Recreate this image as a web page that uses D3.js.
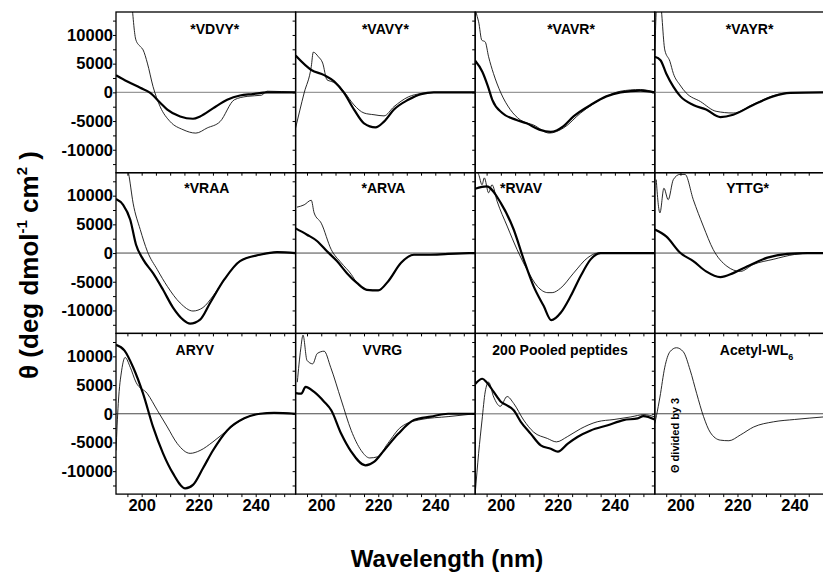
<!DOCTYPE html>
<html>
<head>
<meta charset="utf-8">
<script src="https://cdn.jsdelivr.net/npm/d3@7"></script>
<style>
body { margin: 0; background: #fff; }
text { font-family: "Liberation Sans", Arial, sans-serif; font-weight: bold; fill: #000; }
</style>
</head>
<body>
<div id="chart"></div>
<script>
// panel titles, row by row
var titles = ["*VDVY*", "*VAVY*", "*VAVR*", "*VAYR*",
              "*VRAA", "*ARVA", "*RVAV", "YTTG*",
              "ARYV", "VVRG", "200 Pooled peptides", "Acetyl-WL"];

// [wavelength nm, theta]
var vdvyThick = [[191,3000],[195,1900],[199.5,800],[203,-100],[206.5,-1800],[209,-3000],[213.5,-4200],[218,-4600],[220.5,-4200],[225,-2800],[230,-1300],[234.5,-550],[239,-300],[244,0],[254,0]];
var vdvyThin = [[196.5,16000],[198,9100],[199.5,8000],[200.5,7400],[202,5100],[204,1000],[206.5,-2500],[210,-5100],[214.5,-6500],[219,-7100],[223,-6200],[227.5,-5100],[232.5,-1300],[237,-700],[242,-500],[244,200],[254,0]];

var vavyThick = [[191,6400],[196.5,3900],[201,3000],[204.5,1900],[208,-100],[211.5,-3000],[215,-5400],[219,-6100],[222,-5100],[225.5,-3000],[230.5,-1300],[235,-300],[239.5,0],[254,0]];
var vavyThin = [[191,-6200],[194,-100],[196.5,4500],[197.2,7000],[199,6200],[200.5,5100],[202,2200],[203.5,1900],[205,1600],[208,100],[211.5,-2200],[215,-3600],[218.5,-3900],[222,-4100],[225.5,-2500],[230.5,-800],[235,-200],[239.5,0],[254,0]];

var vavrThick = [[191,5500],[193.5,3600],[195.5,1000],[197,-1300],[200.5,-3600],[205.5,-4800],[209,-5400],[213.5,-6500],[217.5,-6900],[222,-5900],[225.5,-4200],[231.5,-2200],[237,-700],[242,0],[249,300],[254,0]];
var vavrThin = [[191,14500],[191.7,13200],[192.2,12300],[193.3,9100],[194.5,8800],[195.7,6200],[197.4,3300],[200,-100],[203.3,-3000],[206.8,-4800],[211.5,-5700],[217,-7100],[222,-6200],[228,-3600],[237,-700],[242,200],[249,500],[254,0]];

var vayrThick = [[191,6200],[193,5600],[195,3300],[197.5,1000],[200,-700],[204.5,-2200],[209,-3000],[214,-4300],[218.5,-3900],[225.5,-2200],[232.5,-700],[238.5,-100],[254,0]];
var vayrThin = [[191,6500],[191.8,16000],[192.8,16000],[194.5,7400],[196.3,5400],[197.5,3300],[199.8,1300],[202,-100],[207,-1600],[212.5,-3300],[218.5,-3600],[225.5,-2100],[232.5,-600],[238.5,-50],[254,0]];

var vraaThick = [[191,9400],[193.5,8400],[196,5800],[198,1500],[200.5,-1100],[204,-3500],[207.5,-6400],[211,-9500],[214.5,-11600],[217,-12300],[220.5,-11600],[224,-8700],[229,-4600],[234.5,-1400],[241.5,-300],[247.5,150],[254,0]];
var vraaThin = [[193,17000],[195.4,13900],[197,8700],[199.5,4100],[202,300],[205.5,-2900],[209,-5800],[213.5,-8700],[218,-10100],[221.5,-9500],[225,-7500],[229,-4600],[234.5,-1400],[241.5,-300],[247.5,150],[254,0]];

var arvaThick = [[191,4300],[195,3200],[198.5,2100],[202,300],[205.5,-1400],[209,-3500],[212.5,-5200],[216,-6400],[220,-6500],[223.5,-4900],[228,-1700],[232.5,-300],[237.5,-300],[244.5,-150],[254,0]];
var arvaThin = [[191.5,8000],[194,8400],[196.5,9200],[197.5,7000],[200,5200],[203.5,600],[207,-1700],[210.5,-3700],[212.5,-5200],[216,-6400],[220,-6500],[223.5,-4900],[228,-1700],[232.5,-300],[237.5,-300],[244.5,-150],[254,0]];

var rvavThick = [[191,11200],[195,11600],[200,8700],[204.5,4100],[208,-1100],[211.5,-5800],[215,-9200],[217.7,-11700],[221,-10400],[224.5,-7500],[228,-4000],[231.5,-1100],[235,0],[254,0]];
var rvavThin = [[191,14500],[192.2,13700],[193.4,11900],[194.2,13100],[195.7,10500],[196.9,11900],[198.7,9000],[202.2,4700],[205.7,600],[209.2,-2900],[212.8,-5800],[216.5,-6900],[218,-6900],[221,-6100],[225.5,-3500],[230.5,-800],[234,0],[254,0]];

var yttgThick = [[191,4100],[195,2900],[200,0],[204.5,-1400],[209,-3200],[214,-4200],[218.5,-3500],[223.5,-2300],[230.5,-800],[237.5,-150],[244.5,0],[254,0]];
var yttgThin = [[191.5,12800],[192.8,7000],[194.2,11300],[195.7,9300],[197.5,12800],[199.8,13700],[201.6,13700],[204.5,9300],[208,4700],[211.5,600],[216.3,-2300],[221,-3200],[225.5,-2000],[232.5,-1100],[240,-250],[246,0],[254,0]];

var aryvThick = [[191,12000],[194,11000],[197,8100],[200.5,3500],[204,-2300],[207.5,-6900],[211,-10400],[215.3,-13000],[218,-12400],[221.5,-9500],[225,-6400],[230,-2900],[236,-800],[241.5,0],[246.5,150],[254,0]];
var aryvThin = [[191,-6400],[191.8,1800],[193,7600],[194.2,9800],[196,8100],[198,5500],[202,3500],[205.5,600],[209,-2300],[212.5,-5200],[217,-6900],[220.5,-6400],[225,-4900],[230,-2900],[236,-800],[241.5,0],[246.5,150],[254,0]];

var vvrgThick = [[191,3600],[193,3500],[194.5,4700],[197.5,3800],[201,2100],[203.5,600],[207,-3500],[210.5,-6600],[215.5,-9000],[218.5,-8400],[222,-6400],[227,-3500],[232.5,-1100],[238.5,-500],[244.5,0],[254,0]];
var vvrgThin = [[191.6,5500],[192.8,11300],[193.6,13700],[195,9300],[197,8700],[198.6,10500],[201,10900],[203.3,8100],[207,2400],[210.5,-2900],[214,-6400],[217,-7700],[219.8,-7500],[223.3,-5200],[228,-2300],[235,-1000],[244.5,-500],[254,0]];

var pooledThick = [[191,5200],[193.5,6100],[195,5500],[197.5,3800],[200,2100],[202,1500],[204.5,600],[207,-1400],[210.5,-3500],[214,-5500],[217.5,-6100],[220,-6600],[223.5,-5200],[227,-4000],[231.5,-2900],[237.5,-2000],[243,-1100],[248,-800],[250,-400],[254,-1000]];
var pooledThin = [[191,-13900],[192.2,-6900],[193.4,-1100],[194.5,3800],[195.7,5500],[197.5,2900],[199.8,1300],[202.2,3000],[204.5,1800],[208,-1100],[211.5,-3200],[216.3,-4300],[219.5,-4900],[223.3,-4000],[228,-2600],[233.8,-1400],[239.7,-1000],[245.6,-550],[250.2,-150],[254,-550]];

var acetylThin = [[191,-1700],[191.6,-300],[192.8,2900],[194.5,8100],[196.3,10800],[198.6,11500],[201,10800],[203.4,7600],[205.7,3500],[208.1,-500],[210.4,-3200],[214,-4600],[217,-4700],[221,-3700],[225.7,-2300],[232.7,-1400],[240,-1000],[250.3,-550],[254,-400]];

var thickSeries = [vdvyThick, vavyThick, vavrThick, vayrThick, vraaThick, arvaThick, rvavThick, yttgThick, aryvThick, vvrgThick, pooledThick, null];
var thinSeries = [vdvyThin, vavyThin, vavrThin, vayrThin, vraaThin, arvaThin, rvavThin, yttgThin, aryvThin, vvrgThin, pooledThin, acetylThin];

var yTickLabels = [-10000, -5000, 0, 5000, 10000];
var xTickLabels = [200, 220, 240];

// layout
var width = 823, height = 577;
var left0 = 116, top0 = 12, pw = 179.6, ph = 160.7;
var titleDx = [9, 0, 6, 5, 1, -2, -44, 3, -11, -3, -5, 12];
var zeroGray = [true, true, true, true, false, false, false, false, false, false, true, false];

var svg = d3.select("#chart").append("svg")
    .attr("width", width)
    .attr("height", height);

var x = d3.scaleLinear().domain([191, 254]).range([0, pw]);
var y = d3.scaleLinear().domain([-14000, 14000]).range([ph, 0]);

var line = d3.line()
    .x(function(d) { return x(d[0]); })
    .y(function(d) { return y(d[1]); })
    .curve(d3.curveMonotoneX);

for (var i = 0; i < 12; i++) {
    var row = Math.floor(i / 4), col = i % 4;
    var g = svg.append("g")
        .attr("transform", "translate(" + (left0 + col * pw) + "," + (top0 + row * ph) + ")");

    svg.append("clipPath").attr("id", "clip" + i)
        .append("rect").attr("width", pw).attr("height", ph);

    // zero line
    g.append("line")
        .attr("x1", 0).attr("x2", pw)
        .attr("y1", y(0)).attr("y2", y(0))
        .attr("stroke", zeroGray[i] ? "#999" : "#333")
        .attr("stroke-width", zeroGray[i] ? 1.3 : 0.9);

    var plot = g.append("g").attr("clip-path", "url(#clip" + i + ")");
    plot.append("path")
        .attr("d", line(thinSeries[i]))
        .attr("fill", "none")
        .attr("stroke", "#111")
        .attr("stroke-width", 0.9);
    if (thickSeries[i]) {
        plot.append("path")
            .attr("d", line(thickSeries[i]))
            .attr("fill", "none")
            .attr("stroke", "#000")
            .attr("stroke-width", 2.2);
    }

    // minor ticks
    var ya = g.append("g").call(d3.axisLeft(y)
        .tickValues(d3.range(-12500, 14000, 2500))
        .tickSize(3).tickFormat(""));
    ya.select(".domain").remove();
    var xa = g.append("g").attr("transform", "translate(0," + ph + ")")
        .call(d3.axisBottom(x).tickValues(d3.range(195, 255, 5))
        .tickSize(3).tickFormat(""));
    xa.select(".domain").remove();

    if (col == 0) {
        var yl = g.append("g").call(d3.axisLeft(y)
            .tickValues(yTickLabels).tickSize(0).tickPadding(3)
            .tickFormat(function(d) { return String(d); }));
        yl.select(".domain").remove();
        yl.selectAll("text").attr("font-size", 16.5).attr("fill", "#000");
    }
    if (row == 2) {
        var xl = g.append("g").attr("transform", "translate(0," + ph + ")")
            .call(d3.axisBottom(x).tickValues(xTickLabels).tickSize(0).tickPadding(5)
            .tickFormat(function(d) { return String(d); }));
        xl.select(".domain").remove();
        xl.selectAll("text").attr("font-size", 16.5).attr("fill", "#000");
    }

    var t = g.append("text")
        .attr("x", pw / 2 + titleDx[i])
        .attr("y", row == 1 ? 20 : 22)
        .attr("text-anchor", "middle")
        .attr("font-size", 14)
        .text(titles[i]);
    if (i == 11) {
        t.append("tspan").attr("font-size", 9).attr("dy", 5).text("6");
        g.append("text")
            .attr("transform", "translate(" + (x(199.5)) + "," + 102 + ") rotate(-90)")
            .attr("text-anchor", "middle")
            .attr("font-size", 11)
            .text("\u0398  divided by 3");
    }

    // panel frame
    g.append("rect")
        .attr("width", pw).attr("height", ph)
        .attr("fill", "none")
        .attr("stroke", "#000")
        .attr("stroke-width", 1.3);
}

// axis titles
svg.append("text")
    .attr("x", 447).attr("y", 567)
    .attr("text-anchor", "middle")
    .attr("font-size", 24)
    .text("Wavelength (nm)");

var yt = svg.append("text")
    .attr("transform", "translate(38,265) rotate(-90)")
    .attr("text-anchor", "middle")
    .attr("font-size", 26);
yt.append("tspan").text("\u03b8 (deg dmol");
yt.append("tspan").attr("font-size", 15).attr("dy", -11).text("-1");
yt.append("tspan").attr("dy", 11).text(" cm");
yt.append("tspan").attr("font-size", 15).attr("dy", -11).text("2");
yt.append("tspan").attr("dy", 11).text(" )");
</script>
</body>
</html>
